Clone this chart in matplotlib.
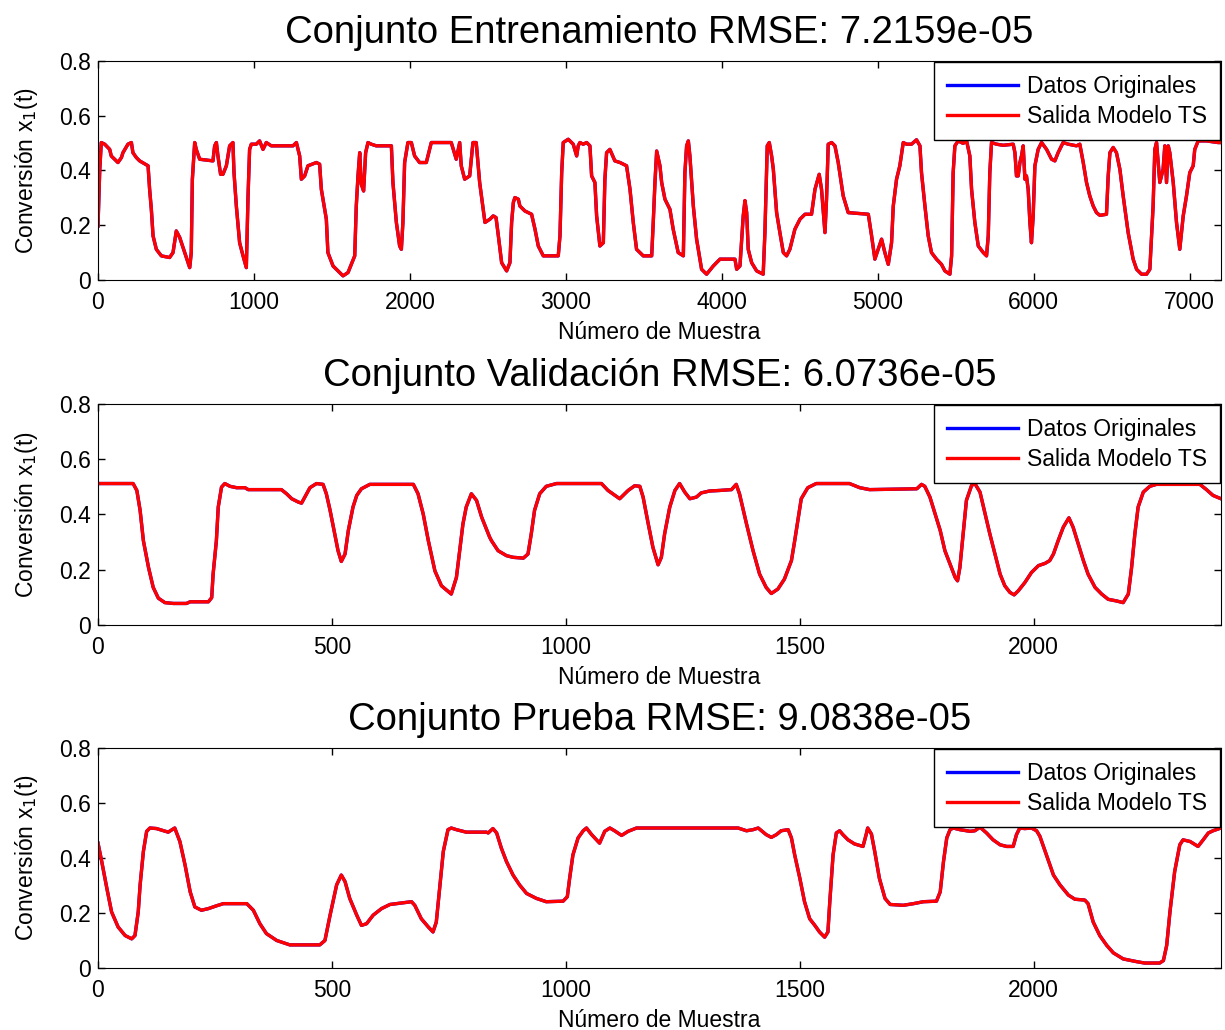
import numpy as np
import matplotlib
matplotlib.use('Agg')
import matplotlib.pyplot as plt

plt.rcParams['font.family'] = ['Liberation Sans', 'DejaVu Sans']

# (sample, conversion) points
train_pts = [(0, 0.197), (11, 0.40), (21, 0.502), (43, 0.496), (75, 0.477), (85, 0.453), (128, 0.429),
             (150, 0.447), (160, 0.465), (192, 0.496), (214, 0.502), (224, 0.465), (246, 0.447), (267, 0.435),
             (321, 0.417), (331, 0.331), (342, 0.258), (353, 0.161), (374, 0.112), (406, 0.088), (459, 0.082),
             (481, 0.100), (502, 0.179), (524, 0.155), (556, 0.100), (588, 0.045), (598, 0.100), (605, 0.368),
             (620, 0.502), (630, 0.477), (652, 0.441), (737, 0.435), (748, 0.490), (759, 0.502), (769, 0.453),
             (786, 0.386), (801, 0.386), (823, 0.417), (844, 0.490), (865, 0.502), (872, 0.392), (887, 0.270),
             (908, 0.136), (930, 0.088), (951, 0.045), (962, 0.307), (972, 0.477), (983, 0.496), (1015, 0.496),
             (1036, 0.508), (1058, 0.477), (1079, 0.502), (1111, 0.490), (1250, 0.490), (1272, 0.502),
             (1293, 0.453), (1304, 0.368), (1325, 0.380), (1346, 0.417), (1400, 0.429), (1421, 0.423),
             (1432, 0.331), (1464, 0.222), (1474, 0.100), (1507, 0.051), (1571, 0.015), (1603, 0.027),
             (1646, 0.088), (1656, 0.270), (1667, 0.380), (1678, 0.465), (1688, 0.350), (1703, 0.325),
             (1716, 0.465), (1731, 0.502), (1752, 0.496), (1784, 0.490), (1881, 0.490), (1891, 0.356),
             (1913, 0.210), (1934, 0.124), (1945, 0.112), (1955, 0.210), (1966, 0.429), (1987, 0.502),
             (2009, 0.502), (2030, 0.453), (2062, 0.429), (2105, 0.429), (2137, 0.502), (2265, 0.502),
             (2297, 0.441), (2319, 0.502), (2329, 0.417), (2351, 0.368), (2383, 0.380), (2404, 0.502),
             (2425, 0.502), (2447, 0.356), (2470, 0.258), (2481, 0.210), (2513, 0.222), (2534, 0.234),
             (2552, 0.228), (2567, 0.161), (2588, 0.063), (2620, 0.033), (2641, 0.063), (2652, 0.210),
             (2663, 0.283), (2673, 0.301), (2695, 0.295), (2705, 0.270), (2737, 0.252), (2780, 0.240),
             (2802, 0.185), (2823, 0.124), (2855, 0.088), (2951, 0.088), (2962, 0.161), (2973, 0.392),
             (2983, 0.502), (3015, 0.514), (3047, 0.496), (3069, 0.453), (3079, 0.490), (3090, 0.502),
             (3111, 0.496), (3133, 0.502), (3154, 0.490), (3165, 0.380), (3186, 0.356), (3197, 0.234),
             (3218, 0.124), (3240, 0.136), (3250, 0.368), (3261, 0.465), (3282, 0.477), (3314, 0.435),
             (3347, 0.429), (3389, 0.417), (3411, 0.331), (3432, 0.210), (3453, 0.112), (3496, 0.088),
             (3550, 0.088), (3560, 0.210), (3571, 0.356), (3582, 0.471), (3603, 0.417), (3614, 0.356),
             (3635, 0.295), (3667, 0.258), (3688, 0.185), (3720, 0.100), (3753, 0.088), (3763, 0.392),
             (3774, 0.490), (3785, 0.508), (3795, 0.453), (3817, 0.270), (3838, 0.149), (3870, 0.039),
             (3902, 0.021), (3945, 0.051), (3988, 0.076), (4084, 0.076), (4095, 0.039), (4116, 0.051),
             (4137, 0.234), (4148, 0.290), (4159, 0.246), (4169, 0.112), (4191, 0.063), (4223, 0.033),
             (4265, 0.021), (4276, 0.173), (4291, 0.490), (4304, 0.502), (4319, 0.453), (4330, 0.404),
             (4351, 0.246), (4372, 0.173), (4394, 0.100), (4415, 0.088), (4436, 0.112), (4468, 0.185),
             (4501, 0.222), (4533, 0.240), (4575, 0.240), (4597, 0.331), (4624, 0.386), (4639, 0.331),
             (4661, 0.173), (4671, 0.295), (4682, 0.496), (4704, 0.502), (4725, 0.490), (4746, 0.429),
             (4778, 0.307), (4810, 0.246), (4939, 0.240), (4960, 0.161), (4981, 0.076), (5002, 0.112),
             (5024, 0.149), (5045, 0.100), (5067, 0.057), (5088, 0.136), (5099, 0.270), (5120, 0.368),
             (5141, 0.417), (5163, 0.502), (5184, 0.496), (5216, 0.496), (5248, 0.512), (5270, 0.490),
             (5280, 0.392), (5302, 0.270), (5323, 0.161), (5344, 0.100), (5376, 0.076), (5408, 0.057),
             (5430, 0.033), (5462, 0.021), (5473, 0.088), (5483, 0.392), (5494, 0.490), (5515, 0.508),
             (5547, 0.499), (5569, 0.508), (5590, 0.453), (5601, 0.331), (5622, 0.210), (5644, 0.124),
             (5676, 0.100), (5697, 0.088), (5708, 0.161), (5718, 0.392), (5729, 0.502), (5761, 0.496),
             (5804, 0.492), (5868, 0.496), (5879, 0.465), (5889, 0.380), (5900, 0.380), (5911, 0.429),
             (5921, 0.453), (5932, 0.490), (5943, 0.368), (5953, 0.380), (5964, 0.331), (5975, 0.210),
             (5985, 0.136), (5996, 0.234), (6007, 0.417), (6028, 0.477), (6050, 0.502), (6082, 0.477),
             (6114, 0.441), (6135, 0.435), (6156, 0.465), (6188, 0.502), (6221, 0.496), (6274, 0.490),
             (6295, 0.496), (6317, 0.429), (6338, 0.356), (6359, 0.307), (6381, 0.270), (6402, 0.246),
             (6424, 0.236), (6466, 0.240), (6477, 0.380), (6488, 0.465), (6509, 0.484), (6530, 0.465),
             (6552, 0.404), (6573, 0.307), (6605, 0.173), (6637, 0.076), (6659, 0.039), (6691, 0.021),
             (6723, 0.021), (6744, 0.039), (6765, 0.270), (6776, 0.477), (6787, 0.502), (6808, 0.356),
             (6829, 0.404), (6840, 0.490), (6851, 0.356), (6862, 0.490), (6872, 0.465), (6894, 0.356),
             (6915, 0.210), (6936, 0.112), (6958, 0.234), (6979, 0.307), (7000, 0.392), (7022, 0.417),
             (7032, 0.477), (7054, 0.508), (7107, 0.508), (7182, 0.502), (7200, 0.502)]

val_pts = [(0, 0.512), (75, 0.512), (83, 0.487), (90, 0.415), (97, 0.305), (108, 0.208), (118, 0.136),
           (129, 0.097), (143, 0.081), (161, 0.078), (189, 0.078), (197, 0.084), (236, 0.084), (243, 0.099),
           (246, 0.184), (253, 0.305), (257, 0.427), (264, 0.499), (271, 0.512), (282, 0.502), (296, 0.497),
           (314, 0.497), (321, 0.490), (392, 0.490), (403, 0.475), (414, 0.457), (428, 0.445), (435, 0.441),
           (442, 0.463), (453, 0.497), (467, 0.512), (481, 0.509), (488, 0.475), (496, 0.415), (506, 0.330),
           (513, 0.269), (520, 0.230), (528, 0.257), (535, 0.342), (545, 0.427), (553, 0.469), (563, 0.493),
           (581, 0.509), (674, 0.509), (684, 0.475), (695, 0.402), (706, 0.305), (720, 0.196), (734, 0.142),
           (755, 0.112), (766, 0.172), (773, 0.269), (780, 0.366), (787, 0.427), (798, 0.475), (809, 0.451),
           (820, 0.390), (827, 0.360), (837, 0.318), (841, 0.305), (855, 0.269), (873, 0.251), (887, 0.245),
           (909, 0.242), (919, 0.257), (926, 0.330), (933, 0.415), (944, 0.475), (958, 0.502), (980, 0.512),
           (1076, 0.512), (1090, 0.487), (1115, 0.457), (1133, 0.487), (1147, 0.504), (1158, 0.502),
           (1165, 0.463), (1176, 0.366), (1186, 0.281), (1197, 0.218), (1204, 0.245), (1211, 0.330),
           (1222, 0.427), (1233, 0.487), (1243, 0.512), (1254, 0.481), (1265, 0.457), (1279, 0.463),
           (1289, 0.478), (1307, 0.485), (1329, 0.487), (1354, 0.490), (1364, 0.509), (1371, 0.475),
           (1386, 0.366), (1400, 0.269), (1414, 0.184), (1428, 0.136), (1439, 0.114), (1453, 0.130),
           (1467, 0.166), (1482, 0.233), (1489, 0.305), (1503, 0.457), (1517, 0.497), (1535, 0.512),
           (1606, 0.512), (1628, 0.497), (1649, 0.490), (1750, 0.493), (1760, 0.509), (1767, 0.502),
           (1778, 0.463), (1789, 0.402), (1800, 0.342), (1810, 0.269), (1821, 0.221), (1832, 0.172),
           (1837, 0.160), (1842, 0.208), (1849, 0.330), (1856, 0.451), (1867, 0.505), (1874, 0.512),
           (1885, 0.481), (1896, 0.402), (1906, 0.330), (1917, 0.257), (1928, 0.184), (1938, 0.142),
           (1949, 0.118), (1958, 0.109), (1967, 0.124), (1981, 0.154), (1995, 0.190), (2010, 0.215),
           (2024, 0.223), (2034, 0.233), (2042, 0.257), (2052, 0.305), (2063, 0.354), (2075, 0.388),
           (2084, 0.354), (2095, 0.293), (2106, 0.233), (2116, 0.184), (2131, 0.136), (2145, 0.112),
           (2159, 0.093), (2177, 0.087), (2191, 0.081), (2202, 0.112), (2209, 0.208), (2216, 0.330),
           (2223, 0.427), (2234, 0.481), (2248, 0.502), (2262, 0.509), (2355, 0.509), (2369, 0.490),
           (2383, 0.469), (2400, 0.457)]

test_pts = [(0, 0.454), (8, 0.387), (19, 0.289), (29, 0.204), (43, 0.149), (58, 0.118), (72, 0.106),
            (79, 0.118), (86, 0.204), (90, 0.302), (97, 0.424), (104, 0.497), (111, 0.509), (125, 0.507),
            (140, 0.499), (150, 0.494), (164, 0.509), (175, 0.460), (186, 0.375), (197, 0.277), (207, 0.222),
            (221, 0.210), (236, 0.216), (253, 0.226), (268, 0.234), (318, 0.234), (332, 0.210), (346, 0.161),
            (360, 0.125), (382, 0.100), (410, 0.084), (474, 0.084), (485, 0.100), (496, 0.192), (510, 0.302),
            (520, 0.338), (528, 0.314), (538, 0.253), (553, 0.192), (563, 0.155), (574, 0.161), (588, 0.192),
            (606, 0.216), (624, 0.231), (638, 0.234), (670, 0.241), (677, 0.228), (691, 0.179), (706, 0.149),
            (716, 0.131), (723, 0.167), (731, 0.302), (738, 0.424), (748, 0.503), (755, 0.509), (766, 0.503),
            (787, 0.494), (830, 0.494), (834, 0.491), (844, 0.507), (852, 0.491), (862, 0.436), (873, 0.387),
            (887, 0.338), (901, 0.302), (916, 0.271), (937, 0.253), (958, 0.241), (994, 0.243), (1003, 0.259),
            (1008, 0.326), (1015, 0.411), (1026, 0.473), (1037, 0.499), (1044, 0.509), (1055, 0.485),
            (1072, 0.454), (1083, 0.497), (1094, 0.509), (1104, 0.499), (1119, 0.482), (1133, 0.497),
            (1151, 0.509), (1357, 0.509), (1368, 0.509), (1386, 0.499), (1400, 0.503), (1411, 0.509),
            (1428, 0.485), (1439, 0.475), (1450, 0.485), (1460, 0.499), (1475, 0.503), (1482, 0.473),
            (1489, 0.411), (1500, 0.326), (1510, 0.241), (1521, 0.179), (1532, 0.155), (1542, 0.131),
            (1553, 0.112), (1560, 0.131), (1564, 0.241), (1571, 0.411), (1578, 0.491), (1585, 0.499),
            (1592, 0.485), (1603, 0.466), (1617, 0.451), (1635, 0.442), (1642, 0.487), (1645, 0.509),
            (1653, 0.487), (1660, 0.424), (1670, 0.326), (1682, 0.253), (1693, 0.231), (1721, 0.228),
            (1743, 0.234), (1764, 0.241), (1792, 0.243), (1800, 0.277), (1807, 0.387), (1814, 0.473),
            (1821, 0.503), (1828, 0.509), (1842, 0.503), (1864, 0.497), (1874, 0.499), (1885, 0.512),
            (1899, 0.491), (1913, 0.466), (1928, 0.448), (1942, 0.442), (1956, 0.442), (1963, 0.485),
            (1970, 0.509), (1981, 0.507), (1995, 0.509), (2006, 0.499), (2013, 0.479), (2027, 0.411),
            (2042, 0.338), (2056, 0.302), (2074, 0.265), (2088, 0.250), (2109, 0.247), (2116, 0.234),
            (2127, 0.167), (2141, 0.118), (2156, 0.082), (2170, 0.055), (2191, 0.033), (2220, 0.023),
            (2237, 0.018), (2269, 0.018), (2277, 0.027), (2284, 0.082), (2291, 0.204), (2301, 0.350),
            (2312, 0.448), (2319, 0.466), (2334, 0.460), (2351, 0.442), (2362, 0.466), (2373, 0.491),
            (2383, 0.499), (2400, 0.509)]

titles = ['Conjunto Entrenamiento RMSE: 7.2159e-05',
          'Conjunto Validación RMSE: 6.0736e-05',
          'Conjunto Prueba RMSE: 9.0838e-05']
x_limits = [7200, 2400, 2400]
x_steps = [1000, 500, 500]

panels = [train_pts, val_pts, test_pts]
# axes boxes in figure coords (left, bottom, width, height)
boxes = [(0.080, 0.7282, 0.9167, 0.2126),
         (0.080, 0.3932, 0.9167, 0.2146),
         (0.080, 0.0602, 0.9167, 0.2136)]

fig = plt.figure(figsize=(12.25, 10.3), dpi=100)

for i, pts in enumerate(panels):
    xs, ys = np.array(pts).T
    ax = fig.add_axes(boxes[i])
    ax.plot(xs, ys, color='b', linewidth=2.4, label='Datos Originales')
    ax.plot(xs, ys, color='r', linewidth=2.4, label='Salida Modelo TS')

    ax.set_xlim(0, x_limits[i])
    ax.set_ylim(0, 0.8)
    ax.set_xticks(np.arange(0, x_limits[i], x_steps[i]))
    ax.set_yticks([0, 0.2, 0.4, 0.6, 0.8])
    ax.set_yticklabels(['0', '0.2', '0.4', '0.6', '0.8'])
    ax.tick_params(direction='in', top=True, right=True, labelsize=16.5, length=5, width=1)
    ax.tick_params(axis='x', pad=8)
    ax.tick_params(axis='y', pad=5)

    ax.set_title(titles[i], fontsize=27.5, pad=13)
    ax.set_xlabel('Número de Muestra', fontsize=16.5, labelpad=5)
    ax.set_ylabel('Conversión x$_1$(t)', fontsize=16.5, labelpad=14)

    leg = ax.legend(loc='upper right', fontsize=16.5, fancybox=False, framealpha=1,
                    edgecolor='k', borderaxespad=0.05, handlelength=3.1, handletextpad=0.4,
                    labelspacing=0.3, borderpad=0.55)
    leg.get_frame().set_linewidth(1)

fig.savefig('out.png', dpi=100)
